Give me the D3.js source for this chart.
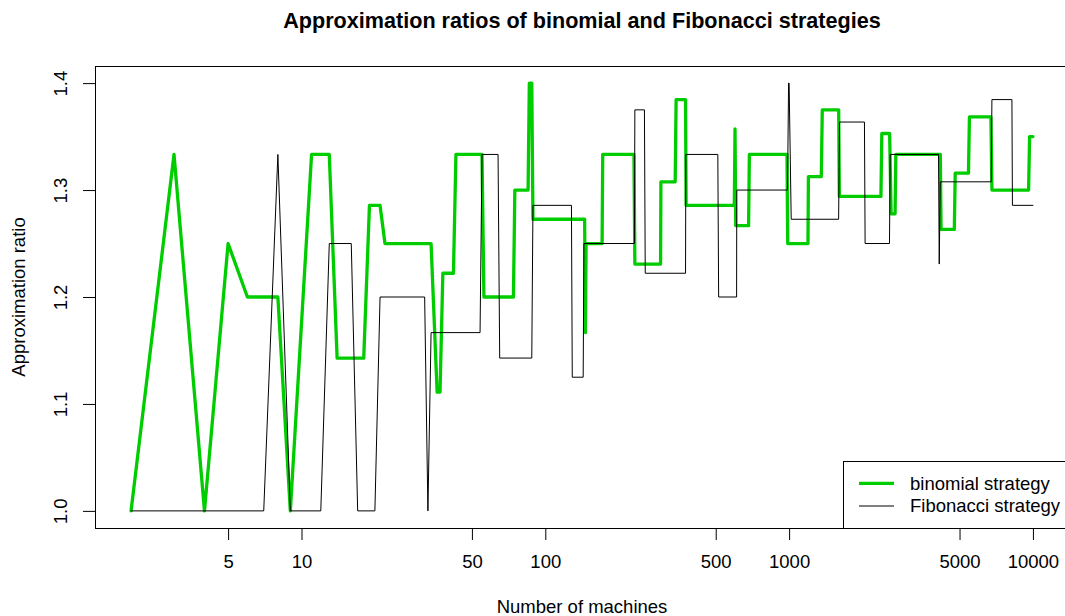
<!DOCTYPE html>
<html>
<head>
<meta charset="utf-8">
<script src="https://cdn.jsdelivr.net/npm/d3@7"></script>
<style>
  html, body { margin: 0; padding: 0; background: #ffffff; }
  svg { display: block; }
  text { font-family: "Liberation Sans", Arial, Helvetica, sans-serif; fill: #000; }
</style>
</head>
<body>
<svg id="chart" width="1065" height="616"></svg>
<script>
// ---------------- data ----------------
const chartTitle = "Approximation ratios of binomial and Fibonacci strategies";
const xLabel = "Number of machines";
const yLabel = "Approximation ratio";
const seriesNames = ["binomial strategy", "Fibonacci strategy"];

const xTickValues = [5, 10, 50, 100, 500, 1000, 5000, 10000];
const yTickValues = [1.0, 1.1, 1.2, 1.3, 1.4];

// binomial strategy: vertices (number of machines, ratio)
const binomialN = [2,3,4,5,6,8,9,11,13,14,18,19,21,22,34,36,37,38,42,43,
  55,56,74,75,85,86,88,89,145,146,147,171,172,231,233,297,298,341,344,376,
  378,596,600,604,682,687,980,987,1195,1200,1355,1368,1597,1607,2380,2400,2584,2620,2720,2740,
  4170,4200,4760,4800,5440,5490,6725,6790,9600,9690,10000];
const binomialRatio = [1,1.3333,1,1.25,1.2,1.2,1,1.3333,1.3333,1.1429,
  1.1429,1.2857,1.2857,1.25,1.25,1.1111,1.1111,1.2222,1.2222,1.3333,
  1.3333,1.2,1.2,1.3,1.3,1.4,1.4,1.2727,1.2727,1.1667,
  1.25,1.25,1.3333,1.3333,1.2308,1.2308,1.3077,1.3077,1.3846,1.3846,
  1.2857,1.2857,1.3571,1.2667,1.2667,1.3333,1.3333,1.25,1.25,1.3125,
  1.3125,1.375,1.375,1.2941,1.2941,1.3529,1.3529,1.2778,1.2778,1.3333,
  1.3333,1.2632,1.2632,1.3158,1.3158,1.3684,1.3684,1.3,1.3,1.35,
  1.35];

// Fibonacci strategy: vertices (number of machines, ratio)
const fibonacciN = [2,7,8,9,12,13,16,17,20,21,32,33,34,54,55,64,65,88,89,128,
  129,143,144,232,233,255,257,376,377,510,514,609,610,985,995,1000,1020,1596,1610,2037,
  2050,2580,2598,4100,4128,4168,6745,6789,8200,8240,10000];
const fibonacciRatio = [1,1,1.3333,1,1,1.25,1.25,1,1,1.2,
  1.2,1,1.1667,1.1667,1.3333,1.3333,1.1429,1.1429,1.2857,1.2857,
  1.125,1.125,1.25,1.25,1.375,1.375,1.2222,1.2222,1.3333,1.3333,
  1.2,1.2,1.3,1.3,1.4,1.4,1.2727,1.2727,1.3636,1.3636,
  1.25,1.25,1.3333,1.3333,1.2308,1.3077,1.3077,1.3846,1.3846,1.2857,
  1.2857];

const seriesColors = ["#00CD00", "#000000"];
const seriesWidths = [3.3, 1];

// ---------------- layout ----------------
const W = 1065, H = 616;
const plot = { left: 95, top: 66, right: 1069, bottom: 528 };
const fontSize = 18.5;

const svg = d3.select("#chart");

// R-style 4% axis extension
const xMin = d3.min([binomialN, fibonacciN].flat());
const xMax = d3.max([binomialN, fibonacciN].flat());
const lx0 = Math.log10(xMin), lx1 = Math.log10(xMax);
const lpad = 0.04 * (lx1 - lx0);
const x = d3.scaleLog()
  .domain([Math.pow(10, lx0 - lpad), Math.pow(10, lx1 + lpad)])
  .range([plot.left, plot.right]);

const yMin = d3.min([binomialRatio, fibonacciRatio].flat());
const yMax = d3.max([binomialRatio, fibonacciRatio].flat());
const ypad = 0.04 * (yMax - yMin);
const y = d3.scaleLinear()
  .domain([yMin - ypad, yMax + ypad])
  .range([plot.bottom, plot.top]);

// clip for plot region
svg.append("defs").append("clipPath").attr("id", "plotclip")
  .append("rect")
  .attr("x", plot.left).attr("y", plot.top)
  .attr("width", plot.right - plot.left).attr("height", plot.bottom - plot.top);

// ---------------- series ----------------
const line = d3.line().x(d => x(d[0])).y(d => y(d[1]));
const series = [
  binomialN.map((n, i) => [n, binomialRatio[i]]),
  fibonacciN.map((n, i) => [n, fibonacciRatio[i]])
];
const gLines = svg.append("g").attr("clip-path", "url(#plotclip)");
series.forEach((s, i) => {
  gLines.append("path")
    .datum(s)
    .attr("d", line)
    .attr("fill", "none")
    .attr("stroke", seriesColors[i])
    .attr("stroke-width", seriesWidths[i])
    .attr("stroke-linejoin", "round")
    .attr("stroke-linecap", "round");
});

// ---------------- axes ----------------
const xAxis = d3.axisBottom(x)
  .tickValues(xTickValues)
  .tickFormat(d3.format("d"))
  .tickSize(12)
  .tickSizeOuter(0);
const gx = svg.append("g")
  .attr("transform", `translate(0,${plot.bottom})`)
  .call(xAxis);
gx.select(".domain").remove();
gx.selectAll(".tick line").attr("stroke", "#000").attr("stroke-width", 1);
gx.selectAll(".tick text")
  .attr("y", 40.3).attr("dy", null)
  .attr("font-size", fontSize)
  .attr("font-family", "Liberation Sans, Arial, sans-serif")
  .attr("fill", "#000");

const yAxis = d3.axisLeft(y)
  .tickValues(yTickValues)
  .tickFormat(d3.format(".1f"))
  .tickSize(12)
  .tickSizeOuter(0);
const gy = svg.append("g")
  .attr("transform", `translate(${plot.left},0)`)
  .call(yAxis);
gy.select(".domain").remove();
gy.selectAll(".tick line").attr("stroke", "#000").attr("stroke-width", 1);
gy.selectAll(".tick text")
  .attr("x", null).attr("dy", null)
  .attr("transform", "translate(-28.3,0) rotate(-90)")
  .attr("text-anchor", "middle")
  .attr("font-size", fontSize)
  .attr("font-family", "Liberation Sans, Arial, sans-serif")
  .attr("fill", "#000");

// axis lines from first to last tick (R style)
svg.append("line")
  .attr("x1", x(xTickValues[0])).attr("x2", x(xTickValues[xTickValues.length - 1]))
  .attr("y1", plot.bottom + 0.5).attr("y2", plot.bottom + 0.5)
  .attr("stroke", "#000");
svg.append("line")
  .attr("x1", plot.left + 0.5).attr("x2", plot.left + 0.5)
  .attr("y1", y(yTickValues[0])).attr("y2", y(yTickValues[yTickValues.length - 1]))
  .attr("stroke", "#000");

// plot box
svg.append("rect")
  .attr("x", plot.left + 0.5).attr("y", plot.top + 0.5)
  .attr("width", plot.right - plot.left).attr("height", plot.bottom - plot.top)
  .attr("fill", "none").attr("stroke", "#000").attr("stroke-width", 1);

// ---------------- titles ----------------
svg.append("text")
  .attr("x", (plot.left + plot.right) / 2).attr("y", 27.7)
  .attr("text-anchor", "middle")
  .attr("font-size", 21.6).attr("font-weight", "bold")
  .text(chartTitle);

svg.append("text")
  .attr("x", (plot.left + plot.right) / 2).attr("y", 613)
  .attr("text-anchor", "middle")
  .attr("font-size", fontSize)
  .text(xLabel);

svg.append("text")
  .attr("transform", `translate(25,${(plot.top + plot.bottom) / 2}) rotate(-90)`)
  .attr("text-anchor", "middle")
  .attr("font-size", fontSize)
  .text(yLabel);

// ---------------- legend ----------------
const legend = { left: 843, top: 461, rowY: [483.3, 506], lineX: [859, 894], textX: 910 };
svg.append("rect")
  .attr("x", legend.left + 0.5).attr("y", legend.top + 0.5)
  .attr("width", plot.right - legend.left).attr("height", plot.bottom - legend.top)
  .attr("fill", "#fff").attr("stroke", "#000").attr("stroke-width", 1);
seriesNames.forEach((name, i) => {
  svg.append("line")
    .attr("x1", legend.lineX[0]).attr("x2", legend.lineX[1])
    .attr("y1", legend.rowY[i]).attr("y2", legend.rowY[i])
    .attr("stroke", seriesColors[i]).attr("stroke-width", seriesWidths[i]);
  svg.append("text")
    .attr("x", legend.textX).attr("y", legend.rowY[i])
    .attr("dy", "0.35em")
    .attr("font-size", fontSize)
    .text(name);
});
</script>
</body>
</html>
